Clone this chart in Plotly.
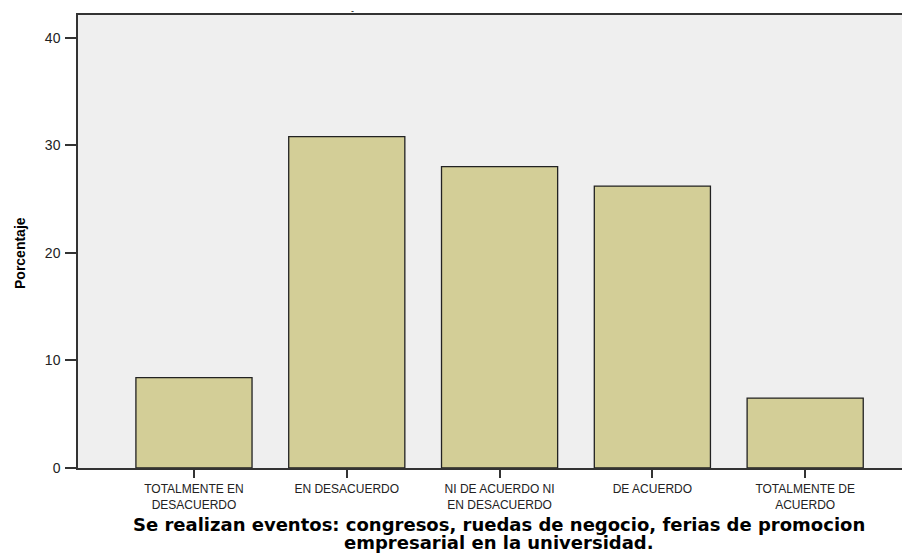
import plotly.graph_objects as go

categories = ["TOTALMENTE EN<br>DESACUERDO", "EN DESACUERDO", "NI DE ACUERDO NI<br>EN DESACUERDO",
              "DE ACUERDO", "TOTALMENTE DE<br>ACUERDO"]
porcentaje = [8.4, 30.8, 28.0, 26.2, 6.5]
y_ticks = [0, 10, 20, 30, 40]

x_title_lines = ["Se realizan eventos: congresos, ruedas de negocio, ferias de promocion",
                 "empresarial en la universidad."]
y_title = "Porcentaje"

axis_col = "#333333"

# page body has an 8px margin, so the figure is 8px smaller than the window
W, H = 902, 546
L, T, B = 70, 7, 86
PW, PH = W - L, H - T - B


def px_x(x):
    # page x (window pixels) -> paper coords
    return (x - 8 - L) / PW


def px_y(y):
    return (H - B - (y - 8)) / PH


fig = go.Figure(go.Bar(
    x=list(range(len(categories))), y=porcentaje,
    width=0.76,
    marker=dict(color="#D3CE97", line=dict(color="#222222", width=1.3)),
))

annotations = [
    dict(text=y_title, xref="paper", yref="paper",
         x=px_x(20), y=px_y(253), xanchor="center", yanchor="middle",
         textangle=-90, showarrow=False,
         font=dict(family="Liberation Sans", size=14, color="black", weight="bold")),
    dict(text="-", xref="paper", yref="paper", x=px_x(352), y=px_y(11),
         xanchor="center", yanchor="middle", showarrow=False,
         font=dict(size=9, color="black")),
]
for line, yc in zip(x_title_lines, [524, 542]):
    annotations.append(dict(text=line, xref="paper", yref="paper",
                            x=px_x(499), y=px_y(yc), xanchor="center", yanchor="middle",
                            showarrow=False,
                            font=dict(family="DejaVu Sans", size=18, color="black", weight="bold")))

fig.update_layout(
    width=W, height=H,
    margin=dict(l=L, r=0, t=T, b=B),
    paper_bgcolor="white", plot_bgcolor="#EFEFEF",
    showlegend=False,
    font=dict(family="Liberation Sans, Arial", color="#222222"),
    xaxis=dict(
        range=[-0.759, 4.686],
        tickvals=list(range(len(categories))), ticktext=categories,
        ticks="outside", ticklen=8, tickwidth=1.5, tickcolor=axis_col,
        tickfont=dict(size=12, color="#222222"),
        ticklabelstandoff=1,
        showline=True, linecolor=axis_col, linewidth=1.5, mirror=True,
        showgrid=False, zeroline=False,
    ),
    yaxis=dict(
        range=[0, 42.1],
        tickvals=y_ticks,
        ticks="outside", ticklen=11, tickwidth=1.5, tickcolor=axis_col,
        tickfont=dict(size=14, color="#222222"),
        ticklabelstandoff=2,
        showline=True, linecolor=axis_col, linewidth=1.5,
        showgrid=False, zeroline=False,
    ),
    annotations=annotations,
)

fig.write_html("out.html")
